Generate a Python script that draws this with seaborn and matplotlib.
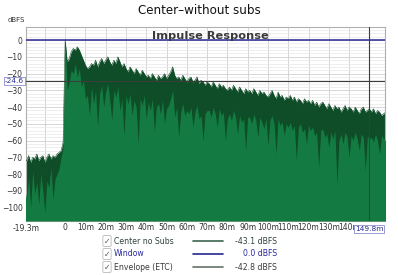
import numpy as np
import pandas as pd
import matplotlib
matplotlib.use("Agg")
import matplotlib.pyplot as plt
import seaborn as sns

# ---------------- data ----------------
times_ms = np.arange(-20, 159)  # 1 ms steps, -20 .. 158

etc_db = (
    [-71, -72, -69, -73, -70, -71, -68, -72, -70, -69, -73, -70, -68, -71, -69, -70, -68, -67]
    + [-66, -61, 0]
    + [-13, -11, -7, -5, -6, -4, -6, -9, -12, -15]
    + [-17, -16, -14, -15, -12, -16, -13, -11, -14, -12]
    + [-10, -13, -15, -12, -14, -10, -13, -16, -14, -17]
    + [-19, -16, -18, -20, -17, -19, -21, -18, -20, -22]
    + [-21, -23, -20, -22, -24, -21, -23, -22, -20, -23]
    + [-21, -19, -16, -21, -23, -22, -24, -21, -23, -25]
    + [-23, -22, -25, -24, -22, -26, -24, -25, -27, -25]
    + [-26, -28, -25, -27, -29, -26, -28, -27, -29, -30]
    + [-28, -30, -27, -29, -31, -28, -30, -32, -29, -31]
    + [-30, -32, -29, -31, -33, -30, -32, -31, -33, -34]
    + [-32, -30, -33, -35, -31, -34, -33, -36, -34, -35]
    + [-33, -36, -34, -37, -35, -36, -38, -35, -37, -36]
    + [-38, -36, -39, -37, -40, -38, -37, -39, -41, -38]
    + [-40, -42, -39, -41, -40, -43, -41, -39, -42, -40]
    + [-41, -43, -40, -42, -44, -41, -40, -43, -42, -41]
    + [-43, -41, -44, -42, -43, -45, -44, -43]
)

impulse_db = (
    [-88, -95, -82, -100, -78, -92, -85, -98, -80, -90, -103, -84, -88, -76, -95, -83, -80, -77]
    + [-70, -64, 0]
    + [-30, -25, -18, -20, -14, -22, -17, -28, -24, -35]
    + [-33, -45, -28, -38, -30, -52, -32, -27, -40, -31]
    + [-26, -36, -48, -30, -34, -28, -42, -35, -57, -33]
    + [-38, -32, -45, -36, -40, -62, -35, -39, -33, -47]
    + [-37, -42, -35, -55, -40, -38, -44, -36, -50, -41]
    + [-39, -35, -30, -46, -40, -58, -43, -38, -45, -42]
    + [-44, -40, -52, -43, -39, -47, -45, -60, -44, -42]
    + [-42, -46, -40, -44, -52, -41, -45, -43, -60, -47]
    + [-44, -48, -42, -46, -56, -45, -49, -47, -66, -46]
    + [-46, -50, -44, -48, -58, -46, -49, -53, -47, -63]
    + [-48, -45, -50, -68, -47, -51, -49, -57, -50, -52]
    + [-49, -54, -51, -72, -52, -50, -55, -53, -62, -51]
    + [-54, -52, -57, -55, -76, -54, -53, -58, -56, -64]
    + [-55, -59, -54, -86, -60, -56, -62, -55, -58, -70]
    + [-57, -60, -55, -59, -66, -56, -58, -78, -57, -59]
    + [-58, -61, -56, -60, -68, -57, -59, -60]
)

window_db = 0.0
cursor_db = -24.6
cursor_ms = 149.8

x_tick_vals = [0, 10, 20, 30, 40, 50, 60, 70, 80, 90, 100, 110, 120, 130, 140]
x_tick_labels = ["0", "10m", "20m", "30m", "40m", "50m", "60m", "70m",
                 "80m", "90m", "100m", "110m", "120m", "130m", "140m"]
y_tick_vals = [0, -10, -20, -30, -40, -50, -60, -70, -80, -90, -100]

legend_names = ["Center no Subs", "Window", "Envelope (ETC)"]
legend_values = ["-43.1 dBFS", "0.0 dBFS", "-42.8 dBFS"]

df = pd.DataFrame({"t": times_ms, "etc": etc_db, "imp": impulse_db})

# ---------------- figure ----------------
sns.set_theme(style="white")
plt.rcParams["font.family"] = ["DejaVu Sans"]

W, H = 398, 275
fig = plt.figure(figsize=(W / 100, H / 100), dpi=100)
fig.patch.set_facecolor("white")
ax = fig.add_axes([26 / W, 1 - 221 / H, (385 - 26) / W, (221 - 27) / H])

XMIN, XMAX = -19.3, 157.7
YMIN, YMAX = -108, 7.8
BOTTOM = YMIN

dark = "#0e4d27"
medium = "#137b42"

ax.fill_between(df["t"], BOTTOM, df["etc"], color=dark, linewidth=0, zorder=2)
ax.fill_between(df["t"], BOTTOM, df["imp"], color=medium, linewidth=0, zorder=3)
sns.lineplot(data=df, x="t", y="etc", ax=ax, color=dark, linewidth=0.4,
             zorder=4, legend=False)

ax.axhline(window_db, color="#2a2a96", linewidth=1.1, zorder=5)
ax.axhline(cursor_db, color="#3c3c3c", linewidth=0.8, zorder=5)
ax.axvline(cursor_ms, color="#3c3c3c", linewidth=0.8, zorder=5)

ax.set_xlim(XMIN, XMAX)
ax.set_ylim(YMIN, YMAX)

# grid
ax.set_xticks([-10] + x_tick_vals)
ax.set_xticklabels([""] + x_tick_labels)
ax.set_yticks(y_tick_vals)
ax.set_yticks(np.arange(-108, 8, 2), minor=True)
ax.grid(True, which="major", axis="x", color="#d4d4d4", linewidth=0.7, zorder=0)
ax.grid(True, which="major", axis="y", color="#d0d0d0", linewidth=0.6, zorder=0)
ax.grid(True, which="minor", axis="y", color="#e8e8e8", linewidth=0.5, zorder=0)
ax.set_axisbelow(True)

ax.tick_params(axis="both", which="both", length=0, labelsize=5.5,
               labelcolor="#333333")
ax.tick_params(axis="x", pad=1.8)
ax.tick_params(axis="y", pad=2.5)
ax.set_xlabel("")
ax.set_ylabel("")
for s in ax.spines.values():
    s.set_color("#b0b0b0")
    s.set_linewidth(0.8)

# extra labels
ax.annotate("-19.3m", xy=(XMIN, YMIN), xytext=(0, -5.6), textcoords="offset points",
            ha="center", va="center", fontsize=5.5, color="#333333",
            annotation_clip=False)
ax.annotate("149.8m", xy=(cursor_ms, YMIN), xytext=(0, -5.6), textcoords="offset points",
            ha="center", va="center", fontsize=5.3, color="#2a2a96",
            bbox=dict(boxstyle="square,pad=0.12", fc="white", ec="#8a8ad0", lw=0.6),
            annotation_clip=False, zorder=7)
ax.annotate("-24.6", xy=(XMIN, cursor_db), xytext=(-1.5, 0), textcoords="offset points",
            ha="right", va="center", fontsize=5.3, color="#2a2a96",
            bbox=dict(boxstyle="square,pad=0.12", fc="white", ec="#8a8ad0", lw=0.6),
            annotation_clip=False, zorder=7)

ax.text(0.5 + 5 / (385 - 26), 0.9, "Impulse Response", transform=ax.get_yaxis_transform(),
        ha="center", va="baseline", fontsize=8.2, fontweight="bold", color="#3a3a3a",
        zorder=6)

fig.text(199 / W, 1 - 10 / H, "Center\u2013without subs", ha="center", va="center",
         fontsize=8.6, color="#111111")
fig.text(16 / W, 1 - 20 / H, "dBFS", ha="center", va="center", fontsize=5,
         color="#333333")

# legend
rows_y = [241, 254, 267]
name_colors = ["#2f4438", "#2a2aa0", "#3a3a3a"]
line_colors = ["#3d6350", "#26268f", "#647268"]
value_colors = ["#2f4438", "#2a2aa0", "#3a3a3a"]
for yy, nm, val, nc, lc, vc in zip(rows_y, legend_names, legend_values,
                                    name_colors, line_colors, value_colors):
    fy = 1 - yy / H
    fig.text(107 / W, fy, "\u2713", ha="center", va="center", fontsize=5.5, color="#555555",
             bbox=dict(boxstyle="round,pad=0.12,rounding_size=0.15", fc="white",
                       ec="#aaaaaa", lw=0.5))
    fig.text(114 / W, fy, nm, ha="left", va="center", fontsize=5.6, color=nc)
    fig.add_artist(plt.Line2D([193 / W, 223 / W], [fy, fy], color=lc, linewidth=1.2,
                              transform=fig.transFigure))
    fig.text(277 / W, fy, val, ha="right", va="center", fontsize=5.6, color=vc)

fig.savefig("out.png", dpi=100, facecolor="white")
